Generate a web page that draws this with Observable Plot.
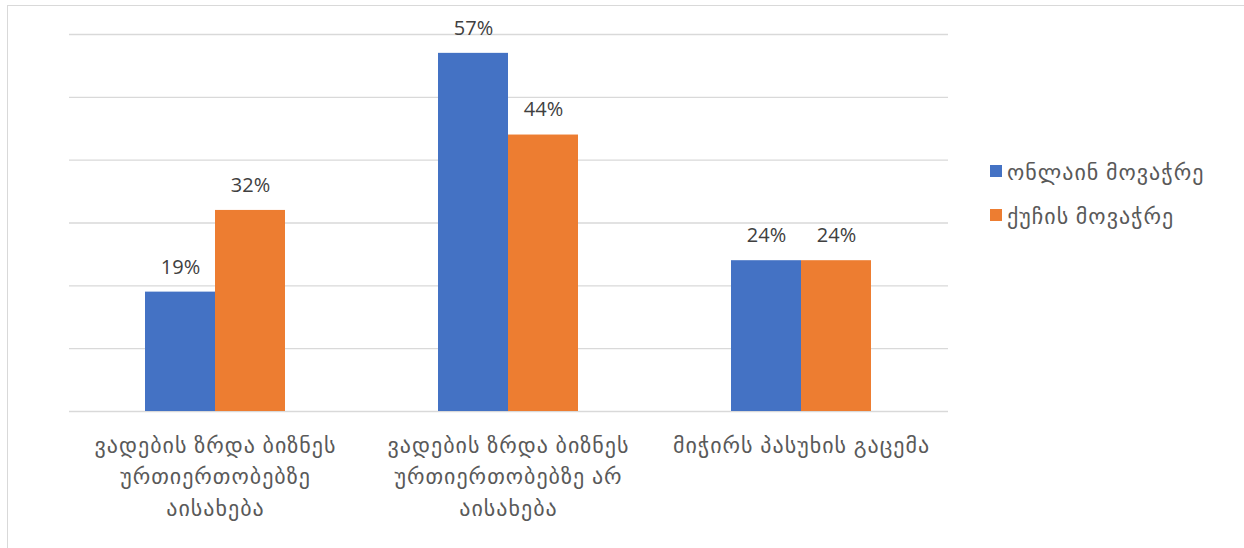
<!DOCTYPE html>
<html><head><meta charset="utf-8">
<script src="https://cdn.jsdelivr.net/npm/d3@7"></script>
<script src="https://cdn.jsdelivr.net/npm/@observablehq/plot@0.6"></script>
<style>
body{margin:0;background:#fff;width:1244px;height:548px;overflow:hidden;}
#frame{position:absolute;left:7px;top:5px;width:1300px;height:600px;border:1.5px solid #d9d9d9;box-sizing:border-box;}
#chart{position:absolute;left:0;top:0;}
#legend{position:absolute;left:990px;top:149px;}
#legend > div{margin:0 !important;}
#legend [class$="-swatch"]{height:44px;display:flex;align-items:center;padding:0 !important;margin:0 !important;font-size:22px;letter-spacing:1px;color:#595959;font-family:"Open Sans","DejaVu Sans",sans-serif;}
#legend svg{margin-right:5px !important;}
</style></head><body>
<div id="frame"></div><div id="chart"></div><div id="legend"></div>
<script>
const categories = [
  "ვადების ზრდა ბიზნეს ურთიერთობებზე აისახება",
  "ვადების ზრდა ბიზნეს ურთიერთობებზე არ აისახება",
  "მიჭირს პასუხის გაცემა"
];
const categoryLabels = [
  "ვადების ზრდა ბიზნეს\nურთიერთობებზე\nაისახება",
  "ვადების ზრდა ბიზნეს\nურთიერთობებზე არ\nაისახება",
  "მიჭირს პასუხის გაცემა"
];
const series = ["ონლაინ მოვაჭრე", "ქუჩის მოვაჭრე"];
const onlineValues = [19, 57, 24];
const streetValues = [32, 44, 24];
const yTicks = [0, 10, 20, 30, 40, 50, 60];
const colors = ["#4472C4", "#ED7D31"];

const online = categories.map((c, i) => ({category: c, series: series[0], value: onlineValues[i]}));
const street = categories.map((c, i) => ({category: c, series: series[1], value: streetValues[i]}));

const font = '"Open Sans","DejaVu Sans",sans-serif';
const chart = Plot.plot({
  width: 1244, height: 548,
  marginLeft: 69, marginRight: 296, marginTop: 34, marginBottom: 137,
  style: {fontFamily: font, color: "#595959", background: "transparent", overflow: "visible"},
  x: {domain: categories, paddingInner: 0.522, paddingOuter: 0.261, label: null},
  y: {domain: [0, 60], axis: null},
  color: {domain: series, range: colors},
  marks: [
    Plot.ruleY(yTicks, {stroke: "#d9d9d9", strokeWidth: 1.3}),
    Plot.barY(online, {x: "category", y: "value", fill: "series", insetRight: 70}),
    Plot.barY(street, {x: "category", y: "value", fill: "series", insetLeft: 70}),
    Plot.text(online, {x: "category", y: "value", text: d => d.value + "%", dx: -35, dy: -25, fontSize: 20, fill: "#404040"}),
    Plot.text(street, {x: "category", y: "value", text: d => d.value + "%", dx: 35, dy: -25, fontSize: 20, fill: "#404040"}),
    Plot.axisX({tickSize: 0, tickPadding: 19, fontSize: 22, lineHeight: 1.43, fill: "#595959",
      tickFormat: d => categoryLabels[categories.indexOf(d)]})
  ]
});
chart.querySelectorAll('[aria-label="x-axis tick label"] text').forEach(t => t.setAttribute("letter-spacing", "1"));
document.getElementById("chart").append(chart);

const legend = Plot.legend({
  color: {domain: series, range: colors},
  swatchSize: 12, columns: 1,
  style: {fontSize: "22px", fontFamily: font, color: "#595959"}
});
document.getElementById("legend").append(legend);
</script>
</body></html>
